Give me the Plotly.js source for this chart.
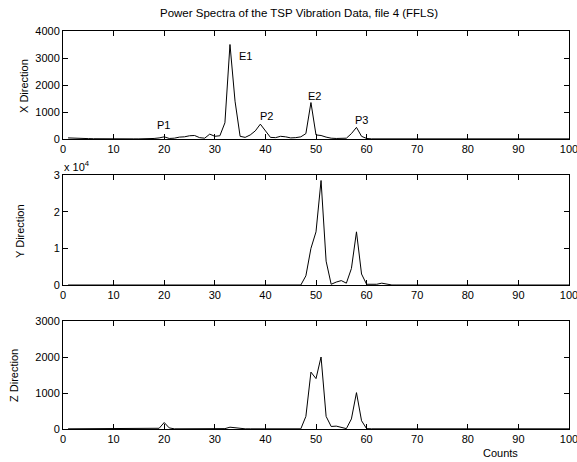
<!DOCTYPE html>
<html>
<head>
<meta charset="utf-8">
<script src="https://cdn.plot.ly/plotly-3.0.1.min.js"></script>
<style>html,body{margin:0;padding:0;background:#fff;}#chart{width:577px;height:462px;}</style>
</head>
<body>
<div id="chart"></div>
<script>
// Counts (frequency bins)
const counts = Array.from({length: 100}, (_, i) => i + 1);

// X direction power spectrum
const xDir = [
  40, 40, 30, 20, 15, 10, 6, 5, 5, 5,
  5, 5, 5, 5, 5, 5, 8, 20, 40, 80,
  20, 30, 70, 80, 120, 130, 50, 30, 180, 100,
  120, 600, 3500, 1400, 100, 60, 150, 300, 550, 300,
  60, 50, 100, 80, 40, 50, 80, 200, 1350, 150,
  130, 70, 30, 20, 20, 30, 200, 430, 100, 20,
  5, 5, 5, 5, 5, 5, 5, 5, 5, 5,
  5, 5, 5, 5, 5, 5, 5, 5, 5, 5,
  5, 5, 5, 5, 5, 5, 5, 5, 5, 5,
  5, 5, 5, 5, 5, 5, 5, 5, 5, 5
];

// Y direction power spectrum
const yDir = [
  0, 0, 0, 0, 0, 0, 0, 0, 0, 0,
  0, 0, 0, 0, 0, 0, 0, 0, 0, 0,
  0, 0, 0, 0, 0, 0, 0, 0, 0, 0,
  0, 0, 0, 0, 0, 0, 0, 0, 0, 0,
  0, 0, 0, 0, 0, 0, 0, 2500, 10000, 14500,
  28500, 6500, 200, 800, 1200, 500, 4500, 14500, 3000, 200,
  100, 200, 500, 200, 0, 0, 0, 0, 0, 0,
  0, 0, 0, 0, 0, 0, 0, 0, 0, 0,
  0, 0, 0, 0, 0, 0, 0, 0, 0, 0,
  0, 0, 0, 0, 0, 0, 0, 0, 0, 0
];

// Z direction power spectrum
const zDir = [
  5, 5, 5, 5, 5, 5, 5, 5, 5, 5,
  5, 5, 5, 5, 5, 5, 5, 5, 20, 180,
  30, 5, 5, 5, 15, 15, 5, 5, 5, 5,
  5, 10, 50, 30, 5, 5, 5, 5, 10, 5,
  5, 5, 25, 25, 20, 5, 5, 350, 1580, 1400,
  2000, 350, 70, 80, 40, 10, 280, 1010, 230, 10,
  5, 5, 5, 5, 5, 5, 5, 5, 5, 5,
  5, 5, 5, 5, 5, 5, 5, 5, 5, 5,
  5, 5, 5, 5, 5, 5, 5, 5, 5, 5,
  5, 5, 5, 5, 5, 5, 5, 5, 5, 5
];

const xTicks = [0, 10, 20, 30, 40, 50, 60, 70, 80, 90, 100];
const peakLabels = ['P1', 'E1', 'P2', 'E2', 'P3'];
const peakX = [19.8, 36, 40.3, 49.8, 58.9];
const peakY = [520, 3070, 850, 1590, 700];

const FONT = 'Liberation Sans, Arial, Helvetica, sans-serif';
const line = {color: '#000', width: 1};

const traces = [
  {x: counts, y: xDir, type: 'scatter', mode: 'lines', line: line, xaxis: 'x', yaxis: 'y'},
  {x: counts, y: yDir, type: 'scatter', mode: 'lines', line: line, xaxis: 'x2', yaxis: 'y2'},
  {x: counts, y: zDir, type: 'scatter', mode: 'lines', line: line, xaxis: 'x3', yaxis: 'y3'}
];

function xax(anchor) {
  return {
    domain: [63/577, 569/577], range: [0, 100], anchor: anchor,
    tickvals: xTicks, ticks: 'inside', ticklen: 5, tickcolor: '#000',
    showline: true, linecolor: '#000', linewidth: 1, mirror: 'ticks',
    showgrid: false, zeroline: false, ticklabeloverflow: 'allow',
    tickfont: {family: FONT, size: 11, color: '#000'}
  };
}
function yax(anchor, dom, range, tv, tt) {
  const o = {
    domain: dom, range: range, anchor: anchor,
    tickvals: tv, ticks: 'inside', ticklen: 5, tickcolor: '#000',
    showline: true, linecolor: '#000', linewidth: 1, mirror: 'ticks',
    showgrid: false, zeroline: false, ticklabeloverflow: 'allow',
    tickfont: {family: FONT, size: 11, color: '#000'}
  };
  if (tt) o.ticktext = tt;
  return o;
}

const annotations = peakLabels.map((t, i) => ({
  text: t, x: peakX[i], y: peakY[i], xref: 'x', yref: 'y', showarrow: false,
  font: {family: FONT, size: 11, color: '#000'}, xanchor: 'center', yanchor: 'middle'
}));

const axTitle = (t, px, py) => ({
  text: t, x: px / 577, y: 1 - py / 462, xref: 'paper', yref: 'paper', showarrow: false,
  textangle: -90, xanchor: 'center', yanchor: 'middle',
  font: {family: FONT, size: 11, color: '#000'}
});

annotations.push(
  axTitle('X Direction', 24, 86),
  axTitle('Y Direction', 20, 231),
  axTitle('Z Direction', 14, 376),
  {text: 'x 10<sup>4</sup>', x: 62/577, y: 1 - 166/462, xref: 'paper', yref: 'paper', showarrow: false,
   xanchor: 'left', yanchor: 'middle', font: {family: FONT, size: 11, color: '#000'}},
  {text: 'Counts', x: 500/577, y: 1 - 453/462, xref: 'paper', yref: 'paper', showarrow: false,
   xanchor: 'center', yanchor: 'middle', font: {family: FONT, size: 11, color: '#000'}}
);

const layout = {
  width: 577, height: 462,
  margin: {l: 0, r: 0, t: 0, b: 0},
  paper_bgcolor: '#fff', plot_bgcolor: '#fff',
  showlegend: false,
  title: {text: 'Power Spectra of the TSP Vibration Data, file 4 (FFLS)',
          x: 299/577, xanchor: 'center', y: 1 - 13/462, yanchor: 'middle',
          font: {family: FONT, size: 11.5, color: '#000'}},
  xaxis: xax('y'),
  xaxis2: xax('y2'),
  xaxis3: xax('y3'),
  yaxis: yax('x', [1 - 139/462, 1 - 31/462], [0, 4000], [0, 1000, 2000, 3000, 4000]),
  yaxis2: yax('x2', [1 - 285/462, 1 - 175/462], [0, 30000], [0, 10000, 20000, 30000], ['0', '1', '2', '3']),
  yaxis3: yax('x3', [1 - 429/462, 1 - 321/462], [0, 3000], [0, 1000, 2000, 3000]),
  annotations: annotations
};

Plotly.newPlot('chart', traces, layout, {displayModeBar: false, staticPlot: true});
</script>
</body>
</html>
